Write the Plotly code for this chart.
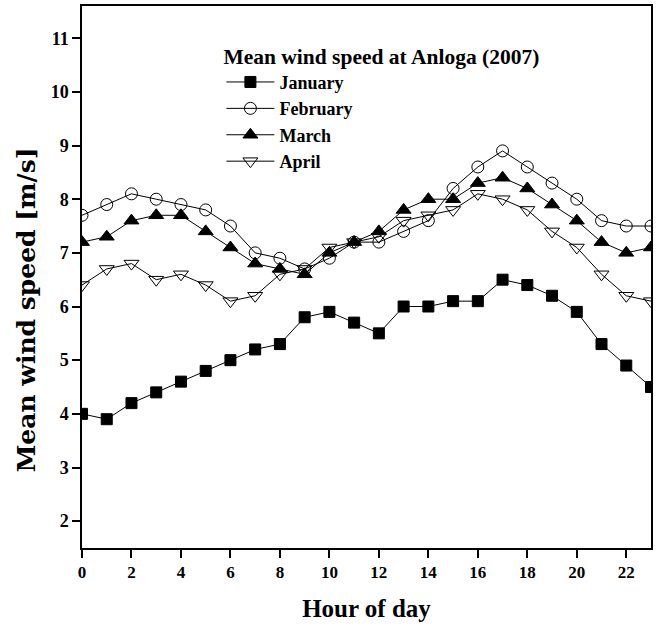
import plotly.graph_objects as go

hours = list(range(24))
january = [4.0, 3.9, 4.2, 4.4, 4.6, 4.8, 5.0, 5.2, 5.3, 5.8, 5.9, 5.7, 5.5, 6.0, 6.0, 6.1, 6.1, 6.5, 6.4, 6.2, 5.9, 5.3, 4.9, 4.5]
february = [7.7, 7.9, 8.1, 8.0, 7.9, 7.8, 7.5, 7.0, 6.9, 6.7, 6.9, 7.2, 7.2, 7.4, 7.6, 8.2, 8.6, 8.9, 8.6, 8.3, 8.0, 7.6, 7.5, 7.5]
march = [7.2, 7.3, 7.6, 7.7, 7.7, 7.4, 7.1, 6.8, 6.7, 6.6, 7.0, 7.2, 7.4, 7.8, 8.0, 8.0, 8.3, 8.4, 8.2, 7.9, 7.6, 7.2, 7.0, 7.1]
april = [6.4, 6.7, 6.8, 6.5, 6.6, 6.4, 6.1, 6.2, 6.6, 6.7, 7.1, 7.2, 7.3, 7.6, 7.7, 7.8, 8.1, 8.0, 7.8, 7.4, 7.1, 6.6, 6.2, 6.1]
x_ticks = list(range(0, 24, 2))
y_ticks = list(range(2, 12))

FONT = "Liberation Serif"

series = [
    ("January", january, "square", "black", 11),
    ("February", february, "circle-open", "black", 12),
    ("March", march, "triangle-up", "black", 13),
    ("April", april, "triangle-down-open", "black", 13),
]

fig = go.Figure()
for name, vals, sym, col, size in series:
    fig.add_trace(go.Scatter(
        x=hours, y=vals, name=f"<b>{name}</b>", mode="lines+markers",
        line=dict(color="black", width=1),
        marker=dict(symbol=sym, size=size, color=col,
                    line=dict(color="black", width=1)),
    ))

fig.update_layout(
    width=657, height=633,
    paper_bgcolor="white", plot_bgcolor="white",
    margin=dict(l=82, r=6, t=6, b=85, autoexpand=False),
    font=dict(family=FONT, color="black"),
    showlegend=True,
    legend=dict(
        x=0.245, y=0.945, xanchor="left", yanchor="top",
        bgcolor="rgba(0,0,0,0)",
        title=dict(text="<b>Mean wind speed at Anloga (2007)</b>", font=dict(size=21.5, family=FONT)),
        font=dict(size=18, family=FONT),
        tracegroupgap=0, itemwidth=48,
    ),
    xaxis=dict(
        range=[0, 23], tickmode="array", tickvals=x_ticks,
        ticktext=[f"<b>{t}</b>" for t in x_ticks],
        ticks="outside", ticklen=8, tickwidth=1.5, tickcolor="black",
        showline=True, linecolor="black", linewidth=1.5, mirror=True,
        showgrid=False, zeroline=False, automargin=False,
        tickfont=dict(size=17, family=FONT),
        title=dict(text="<b>Hour of day</b>", font=dict(size=25, family=FONT), standoff=18),
    ),
    yaxis=dict(
        range=[1.5, 11.6], tickmode="array", tickvals=y_ticks,
        ticktext=[f"<b>{t}</b>" for t in y_ticks],
        ticks="outside", ticklen=8, tickwidth=1.5, tickcolor="black",
        showline=True, linecolor="black", linewidth=1.5, mirror=True,
        showgrid=False, zeroline=False, automargin=False,
        tickfont=dict(size=18, family=FONT),
    ),
    annotations=[dict(
        text="<b>Mean wind speed [m/s]</b>", textangle=-90,
        xref="paper", yref="paper", x=-0.098, y=0.439,
        xanchor="center", yanchor="middle", showarrow=False,
        font=dict(size=25, family="DejaVu Serif", color="black"),
    )],
)

fig.write_html("out.html", config={"displayModeBar": False},
               post_script="document.body.style.margin='0px';")
